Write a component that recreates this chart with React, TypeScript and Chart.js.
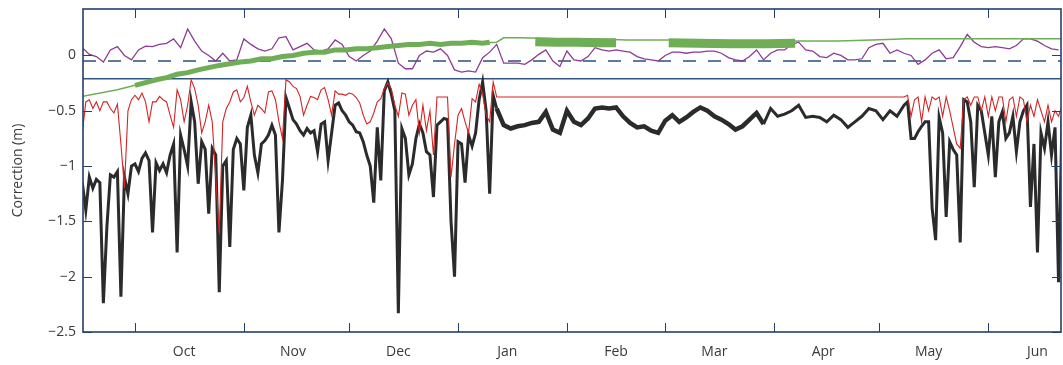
import React, { useEffect, useRef } from "react";
import { Chart, registerables } from "chart.js";

Chart.register(...registerables);

// ---- axis definitions (x = days after 1 October) ----
const MONTHS = ["Oct", "Nov", "Dec", "Jan", "Feb", "Mar", "Apr", "May", "Jun"];
const MONTH_START_DAYS = [0, 31, 61, 92, 123, 151, 182, 212, 243];
const MONTH_LABEL_DAYS = [14, 45, 75, 106, 137, 165, 196, 226, 257];
const X_MIN = -14.8;
const X_MAX = 263.7;
const Y_MIN = -2.5;
const Y_MAX = 0.42;
const Y_TICKS = [0, -0.5, -1, -1.5, -2, -2.5];
const Y_TITLE = "Correction (m)";

// ---- reference levels ----
const DASHED_LEVEL = -0.05;
const SOLID_LEVEL = -0.21;

// ---- black series (daily, then every 2 days, then daily) ----
const BLACK_EARLY_START = -15;
const BLACK_EARLY = [
  -1.15, -1.4, -1.1, -1.2, -1.12, -1.15, -2.24, -1.55, -1.08, -1.1, -1.05, -2.18, -1.1, -1.25, -1.0,
  -0.98, -1.05, -0.93, -0.88, -0.95, -1.6, -0.97, -1.04, -0.98, -1.06,
  -0.9, -0.8, -1.78, -0.72, -0.85, -1.0, -0.42, -0.6, -1.16, -0.78,
  -0.85, -1.43, -0.84, -0.9, -2.14, -1.0, -0.95, -1.73, -0.85, -0.75,
  -0.8, -1.22, -0.65, -0.54, -0.9, -1.06, -0.8, -0.77, -0.72, -0.63,
  -0.72, -1.6, -1.13, -0.38, -0.48, -0.58, -0.62, -0.68, -0.72, -0.66,
  -0.7, -0.68, -0.87, -0.62, -0.6, -0.95, -0.7, -0.45, -0.43, -0.5,
  -0.54, -0.6, -0.63, -0.69, -0.7, -0.78, -0.9, -1.0, -1.33, -0.65,
  -1.13, -0.32, -0.24, -0.35, -0.5, -2.33, -0.66, -0.75, -1.08, -0.98,
  -0.75, -0.62, -0.7, -0.87, -0.9, -1.28, -0.63, -0.6, -0.57, -0.58,
  -1.5, -2.0, -0.78, -0.8, -1.15, -0.72, -0.82, -0.7, -0.4, -0.24,
  -0.5, -1.25, -0.36, -0.48,
];
const BLACK_MID_START = 105;
const BLACK_MID_STEP = 2;
const BLACK_MID = [
  -0.63, -0.66, -0.64, -0.63, -0.61, -0.6, -0.51, -0.67, -0.7, -0.5,
  -0.6, -0.63, -0.57, -0.48, -0.47, -0.48, -0.47, -0.55, -0.61, -0.65,
  -0.64, -0.68, -0.7, -0.59, -0.54, -0.6, -0.56, -0.51, -0.47, -0.5,
  -0.55, -0.58, -0.62, -0.67, -0.64, -0.58, -0.52, -0.62, -0.48, -0.55,
  -0.53, -0.5, -0.45, -0.56, -0.55, -0.56, -0.6, -0.54, -0.58, -0.65,
  -0.6, -0.55, -0.48, -0.5, -0.58, -0.5, -0.55,
];
const BLACK_LATE_START = 219;
const BLACK_LATE = [
  -0.45, -0.42, -0.75, -0.75, -0.69, -0.64, -0.6, -0.6, -1.38, -1.67,
  -0.56, -0.7, -1.46, -0.78, -0.85, -0.9, -1.69, -0.4, -0.42, -0.6,
  -1.19, -0.45, -0.5, -0.7, -0.9, -0.55, -1.1, -0.6, -0.51, -0.75,
  -0.7, -0.55, -0.87, -0.6, -0.5, -0.45, -1.37, -0.8, -1.78, -0.7,
  -0.84, -0.6, -0.9, -0.65, -2.05, -0.55,
];

// ---- red series (daily; flat between the two parts) ----
const RED_EARLY_START = -15;
const RED_EARLY = [
  -0.7, -0.42, -0.4, -0.48, -0.42, -0.5, -0.42, -0.42, -0.48, -0.52, -0.44, -0.8, -1.2, -0.5, -0.4,
  -0.36, -0.4, -0.34, -0.42, -0.6, -0.42, -0.42, -0.37, -0.4, -0.42,
  -0.54, -0.65, -0.31, -0.4, -0.6, -0.45, -0.22, -0.3, -0.45, -0.7,
  -0.6, -0.45, -0.6, -1.1, -1.6, -0.6, -0.48, -0.42, -0.33, -0.31,
  -0.42, -0.38, -0.28, -0.42, -0.54, -0.45, -0.48, -0.52, -0.33, -0.32,
  -0.4, -0.6, -0.75, -0.22, -0.24, -0.28, -0.3, -0.37, -0.54, -0.45,
  -0.37, -0.38, -0.4, -0.31, -0.29, -0.4, -0.54, -0.32, -0.35, -0.35,
  -0.36, -0.34, -0.35, -0.38, -0.43, -0.54, -0.62, -0.6, -0.52, -0.42,
  -0.39, -0.3, -0.25, -0.3, -0.45, -0.55, -0.34, -0.35, -0.54, -0.45,
  -0.4, -0.7, -0.45, -0.68, -0.5, -0.9, -0.375, -0.375, -0.375, -0.375,
  -1.1, -0.8, -0.54, -0.48, -0.6, -0.7, -0.39, -0.42, -0.26, -0.35,
  -0.54, -0.6, -0.24, -0.375,
];
const RED_LATE_START = 219;
const RED_LATE = [
  -0.375, -0.36, -0.55, -0.4, -0.375, -0.6, -0.375, -0.5, -0.375, -0.4,
  -0.375, -0.55, -0.375, -0.5, -0.65, -0.8, -0.84, -0.4, -0.375, -0.45,
  -0.375, -0.375, -0.5, -0.375, -0.55, -0.375, -0.5, -0.375, -0.375, -0.6,
  -0.4, -0.375, -0.55, -0.375, -0.4, -0.6, -0.45, -0.55, -0.4, -0.5,
  -0.6, -0.45, -0.6, -0.5, -0.55, -0.45,
];

// ---- purple series (every 2 days) ----
const PURPLE_START = -15;
const PURPLE_STEP = 2;
const PURPLE = [
  0.07, 0.01, -0.01, -0.06, 0.05, 0.08, 0.0, -0.04,
  0.05, 0.085, 0.08, 0.1, 0.11, 0.15, 0.07, 0.24, 0.13, 0.04,
  0.0, -0.05, 0.02, -0.05, -0.04, 0.15, 0.1, 0.06, 0.04, 0.06,
  0.16, 0.17, 0.05, 0.08, 0.11, 0.05, 0.04, 0.06, 0.14, 0.1,
  -0.01, -0.05, 0.0, 0.04, 0.13, 0.24, 0.15, -0.07, -0.12, -0.12,
  0.0, 0.04, 0.03, 0.06, 0.0, -0.13, -0.15, -0.14, -0.15, -0.02,
  0.03, 0.1, -0.07, -0.07, -0.07, -0.08, -0.04, 0.01, 0.05, -0.05,
  -0.1, 0.04, -0.04, -0.05, -0.01, 0.07, 0.05, 0.04, 0.05, 0.04,
  0.03, -0.01, -0.03, -0.04, -0.05, 0.0, 0.03, 0.03, 0.02, 0.03,
  0.03, 0.04, 0.04, 0.02, -0.02, -0.04, -0.05, -0.01, 0.05, -0.04,
  0.02, 0.05, 0.05, 0.1, 0.12, 0.05, 0.04, -0.01, -0.02, 0.02,
  0.0, -0.04, -0.04, -0.03, 0.07, 0.1, 0.11, 0.02, 0.05, 0.02,
  0.0, -0.08, -0.04, 0.02, 0.05, -0.03, -0.02, 0.08, 0.19, 0.12,
  0.08, 0.07, 0.08, 0.07, 0.06, 0.09, 0.15, 0.15, 0.13, 0.09,
  0.06, 0.05,
];

// ---- green series ----
const GREEN_DAYS = [
  -15, -5, 0, 5, 10, 15, 20, 25, 30, 35, 40, 45, 50, 55, 60, 65, 70, 75, 80, 85,
  90, 95, 100, 103, 105, 110, 120, 130, 140, 150, 160, 170, 180, 190, 200, 210, 220, 230, 240, 250, 264,
];
const GREEN = [
  -0.37, -0.31, -0.27, -0.235, -0.19, -0.155, -0.12, -0.085, -0.06, -0.04,
  -0.02, 0.0, 0.03, 0.04, 0.05, 0.06, 0.075, 0.09, 0.1, 0.105,
  0.11, 0.11, 0.115, 0.12, 0.16, 0.16, 0.15, 0.15, 0.14, 0.14, 0.14,
  0.13, 0.13, 0.13, 0.13, 0.14, 0.15, 0.15, 0.15, 0.15, 0.15,
];
const GREEN_BAND_EARLY_DAYS = [
  0, 3, 6, 9, 12, 15, 18, 21, 24, 27, 30, 33, 36, 39, 42, 45, 48, 51, 54, 57,
  60, 63, 66, 69, 72, 75, 78, 81, 84, 87, 90, 93, 96, 99, 101,
];
const GREEN_BAND_EARLY = [
  -0.27, -0.245, -0.22, -0.2, -0.17, -0.155, -0.13, -0.11, -0.09, -0.075,
  -0.06, -0.05, -0.03, -0.03, -0.01, 0.0, 0.02, 0.03, 0.03, 0.05,
  0.05, 0.06, 0.06, 0.07, 0.08, 0.09, 0.1, 0.1, 0.11, 0.1,
  0.11, 0.11, 0.12, 0.11, 0.12,
];
const GREEN_BAND_LATE_DAYS = [114, 120, 126, 132, 137, 144, 152, 160, 170, 180, 188];
const GREEN_BAND_LATE = [0.125, 0.12, 0.12, 0.115, 0.115, null, 0.115, 0.11, 0.105, 0.105, 0.11];

// ---- styles ----
const FRAME_COLOR = "#22406b";
const TEXT_COLOR = "#3a3a3a";
const FONT_FAMILY = "'Open Sans', 'Noto Sans', sans-serif";

const seq = (start: number, step: number, vals: (number | null)[]) =>
  vals.map((v, i) => ({ x: start + i * step, y: v }));
const pairs = (xs: number[], vals: (number | null)[]) => xs.map((x, i) => ({ x, y: vals[i] }));

const framePlugin = {
  id: "frameTicks",
  afterDatasetsDraw(chart: any) {
    const { ctx, chartArea } = chart;
    const { left, right, top, bottom } = chartArea;
    const xs = chart.scales.x;
    const ys = chart.scales.y;
    ctx.save();
    ctx.strokeStyle = FRAME_COLOR;
    ctx.lineWidth = 1;
    ctx.beginPath();
    MONTH_START_DAYS.forEach((d) => {
      const px = Math.round(xs.getPixelForValue(d)) + 0.5;
      ctx.moveTo(px, bottom);
      ctx.lineTo(px, bottom - 9);
      ctx.moveTo(px, top);
      ctx.lineTo(px, top + 9);
    });
    Y_TICKS.forEach((v) => {
      const py = Math.round(ys.getPixelForValue(v)) + 0.5;
      ctx.moveTo(left, py);
      ctx.lineTo(left + 9, py);
      ctx.moveTo(right, py);
      ctx.lineTo(right - 9, py);
    });
    ctx.stroke();
    ctx.lineWidth = 1.6;
    ctx.strokeRect(left, top, right - left, bottom - top);
    ctx.restore();
  },
};

export default function App() {
  const ref = useRef<HTMLCanvasElement | null>(null);

  useEffect(() => {
    document.body.style.margin = "0";
    if (!ref.current) return;

    const black = [
      ...seq(BLACK_EARLY_START, 1, BLACK_EARLY),
      ...seq(BLACK_MID_START, BLACK_MID_STEP, BLACK_MID),
      ...seq(BLACK_LATE_START, 1, BLACK_LATE),
    ];
    const red = [...seq(RED_EARLY_START, 1, RED_EARLY), ...seq(RED_LATE_START, 1, RED_LATE)];

    const chart = new Chart(ref.current, {
      type: "line",
      data: {
        datasets: [
          {
            label: "red",
            data: red,
            borderColor: "#d42424",
            borderWidth: 1.1,
            pointRadius: 0,
            order: 1,
          },
          {
            label: "black",
            data: black,
            borderColor: "#2b2b2b",
            borderWidth: 3,
            pointRadius: 0,
            order: 2,
            segment: {
              borderWidth: (c: any) =>
                c.p0.parsed.x >= BLACK_MID_START - 2 && c.p1.parsed.x <= 180 ? 4.5 : 3,
            },
          },
          {
            label: "green band early",
            data: pairs(GREEN_BAND_EARLY_DAYS, GREEN_BAND_EARLY),
            borderColor: "#6fae57",
            borderWidth: 5,
            pointRadius: 0,
            order: 3,
          },
          {
            label: "green band late",
            data: pairs(GREEN_BAND_LATE_DAYS, GREEN_BAND_LATE),
            borderColor: "#6fae57",
            borderWidth: 9,
            pointRadius: 0,
            spanGaps: false,
            order: 3,
          },
          {
            label: "green",
            data: pairs(GREEN_DAYS, GREEN),
            borderColor: "#6fae57",
            borderWidth: 1.5,
            pointRadius: 0,
            order: 4,
          },
          {
            label: "purple",
            data: seq(PURPLE_START, PURPLE_STEP, PURPLE),
            borderColor: "#8d3b97",
            borderWidth: 1.3,
            pointRadius: 0,
            order: 5,
          },
          {
            label: "dashed",
            data: [
              { x: X_MIN, y: DASHED_LEVEL },
              { x: X_MAX, y: DASHED_LEVEL },
            ],
            borderColor: "#2d4f80",
            borderWidth: 1.3,
            borderDash: [13, 12],
            pointRadius: 0,
            order: 6,
          },
          {
            label: "solid",
            data: [
              { x: X_MIN, y: SOLID_LEVEL },
              { x: X_MAX, y: SOLID_LEVEL },
            ],
            borderColor: "#2f5686",
            borderWidth: 1.5,
            pointRadius: 0,
            order: 7,
          },
        ],
      },
      options: {
        responsive: false,
        animation: false,
        layout: { padding: { top: 9, right: 2, left: 0, bottom: 0 } },
        plugins: { legend: { display: false }, tooltip: { enabled: false } },
        scales: {
          x: {
            type: "linear",
            min: X_MIN,
            max: X_MAX,
            grid: { display: false, drawTicks: false },
            border: { display: false },
            afterBuildTicks: (s: any) => {
              s.ticks = MONTH_LABEL_DAYS.map((v) => ({ value: v }));
            },
            afterFit: (s: any) => {
              s.height = 33;
              s.paddingLeft = 0;
              s.paddingRight = 0;
            },
            ticks: {
              autoSkip: false,
              maxRotation: 0,
              padding: 12,
              color: TEXT_COLOR,
              font: { family: FONT_FAMILY, size: 14 },
              callback: (v: any) => MONTHS[MONTH_LABEL_DAYS.indexOf(Number(v))] ?? "",
            },
          },
          y: {
            type: "linear",
            min: Y_MIN,
            max: Y_MAX,
            grid: { display: false, drawTicks: false },
            border: { display: false },
            afterBuildTicks: (s: any) => {
              s.ticks = Y_TICKS.map((v) => ({ value: v }));
            },
            afterFit: (s: any) => {
              s.width = 83;
              s.paddingTop = 0;
              s.paddingBottom = 0;
            },
            ticks: {
              padding: 7,
              color: TEXT_COLOR,
              font: { family: FONT_FAMILY, size: 14 },
              callback: (v: any) => (Number(v) === 0 ? "0" : (Number(v) < 0 ? "\u2212" : "") + Math.abs(Number(v))),
            },
            title: {
              display: true,
              text: Y_TITLE,
              color: TEXT_COLOR,
              font: { family: FONT_FAMILY, size: 14 },
              padding: { top: 10, bottom: 0 },
            },
          },
        },
      },
      plugins: [framePlugin],
    });

    return () => chart.destroy();
  }, []);

  return (
    <div style={{ width: 1063, height: 365 }}>
      <canvas ref={ref} width={1063} height={365} />
    </div>
  );
}
